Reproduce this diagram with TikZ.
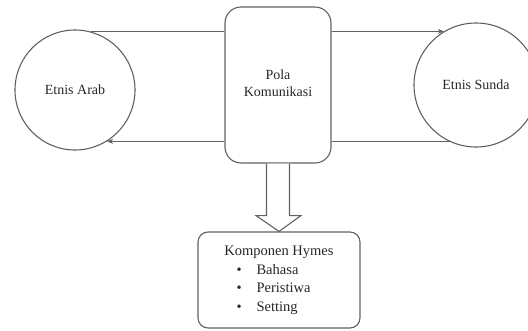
\documentclass[tikz,border=0pt]{standalone}
\usepackage{fontspec}
\setmainfont{Liberation Serif}
\usetikzlibrary{arrows.meta,calc}
\begin{document}
\begin{tikzpicture}[x=1pt,y=-1pt,
  line/.style={draw=black!62, line width=1.1pt},
  circ/.style={line, circle, inner sep=0pt, font=\fontsize{14}{17}\selectfont, text=black!85},
  rbox/.style={line, rectangle, inner sep=0pt, align=center, font=\fontsize{14}{17}\selectfont, text=black!85},
  conn/.style={line, line width=1pt},
  tip/.style={-{Stealth[length=6pt,width=5pt]}}]
\useasboundingbox (0,0) rectangle (528,330);
\node[circ, minimum size=120pt] (arab) at (75,90) {\raisebox{-4pt}{Etnis Arab}};
\node[circ, minimum size=124pt] (sunda) at (476,85) {\raisebox{-3pt}{Etnis Sunda}};
\node[rbox, minimum width=106pt, minimum height=156pt, rounded corners=16pt] (pola) at (278,85)
  {\raisebox{-4pt}{\begin{tabular}{@{}c@{}}Pola\\Komunikasi\end{tabular}}};
\node[rbox, minimum width=162pt, minimum height=96pt, rounded corners=10pt] (hymes) at (279,280)
  {\fontsize{14.5}{18.5}\selectfont
   \begin{tabular}{@{}l@{}}
   \makebox[121pt]{Komponen Hymes}\\
   \hspace{18pt}\textbullet\hspace{15pt}Bahasa\\
   \hspace{18pt}\textbullet\hspace{15pt}Peristiwa\\
   \hspace{18pt}\textbullet\hspace{15pt}Setting
   \end{tabular}};
% connectors
\draw[conn] (arab.75) -- (arab.75 -| pola.west);
\draw[conn, tip] (sunda.121 -| pola.east) -- (sunda.121);
\draw[conn] (sunda.245) -- (sunda.245 -| pola.east);
\draw[conn, tip] (arab.-58 -| pola.west) -- (arab.-58);
% hollow block arrow
\draw[line, fill=white, line join=miter]
  ($(pola.south)+(-11.5,0)$) -- ($(pola.south)+(-11.5,52)$) -- ($(pola.south)+(-22,52)$)
  -- (hymes.north) -- ($(pola.south)+(23,52)$) -- ($(pola.south)+(11.5,52)$)
  -- ($(pola.south)+(11.5,0)$);
\end{tikzpicture}
\end{document}
